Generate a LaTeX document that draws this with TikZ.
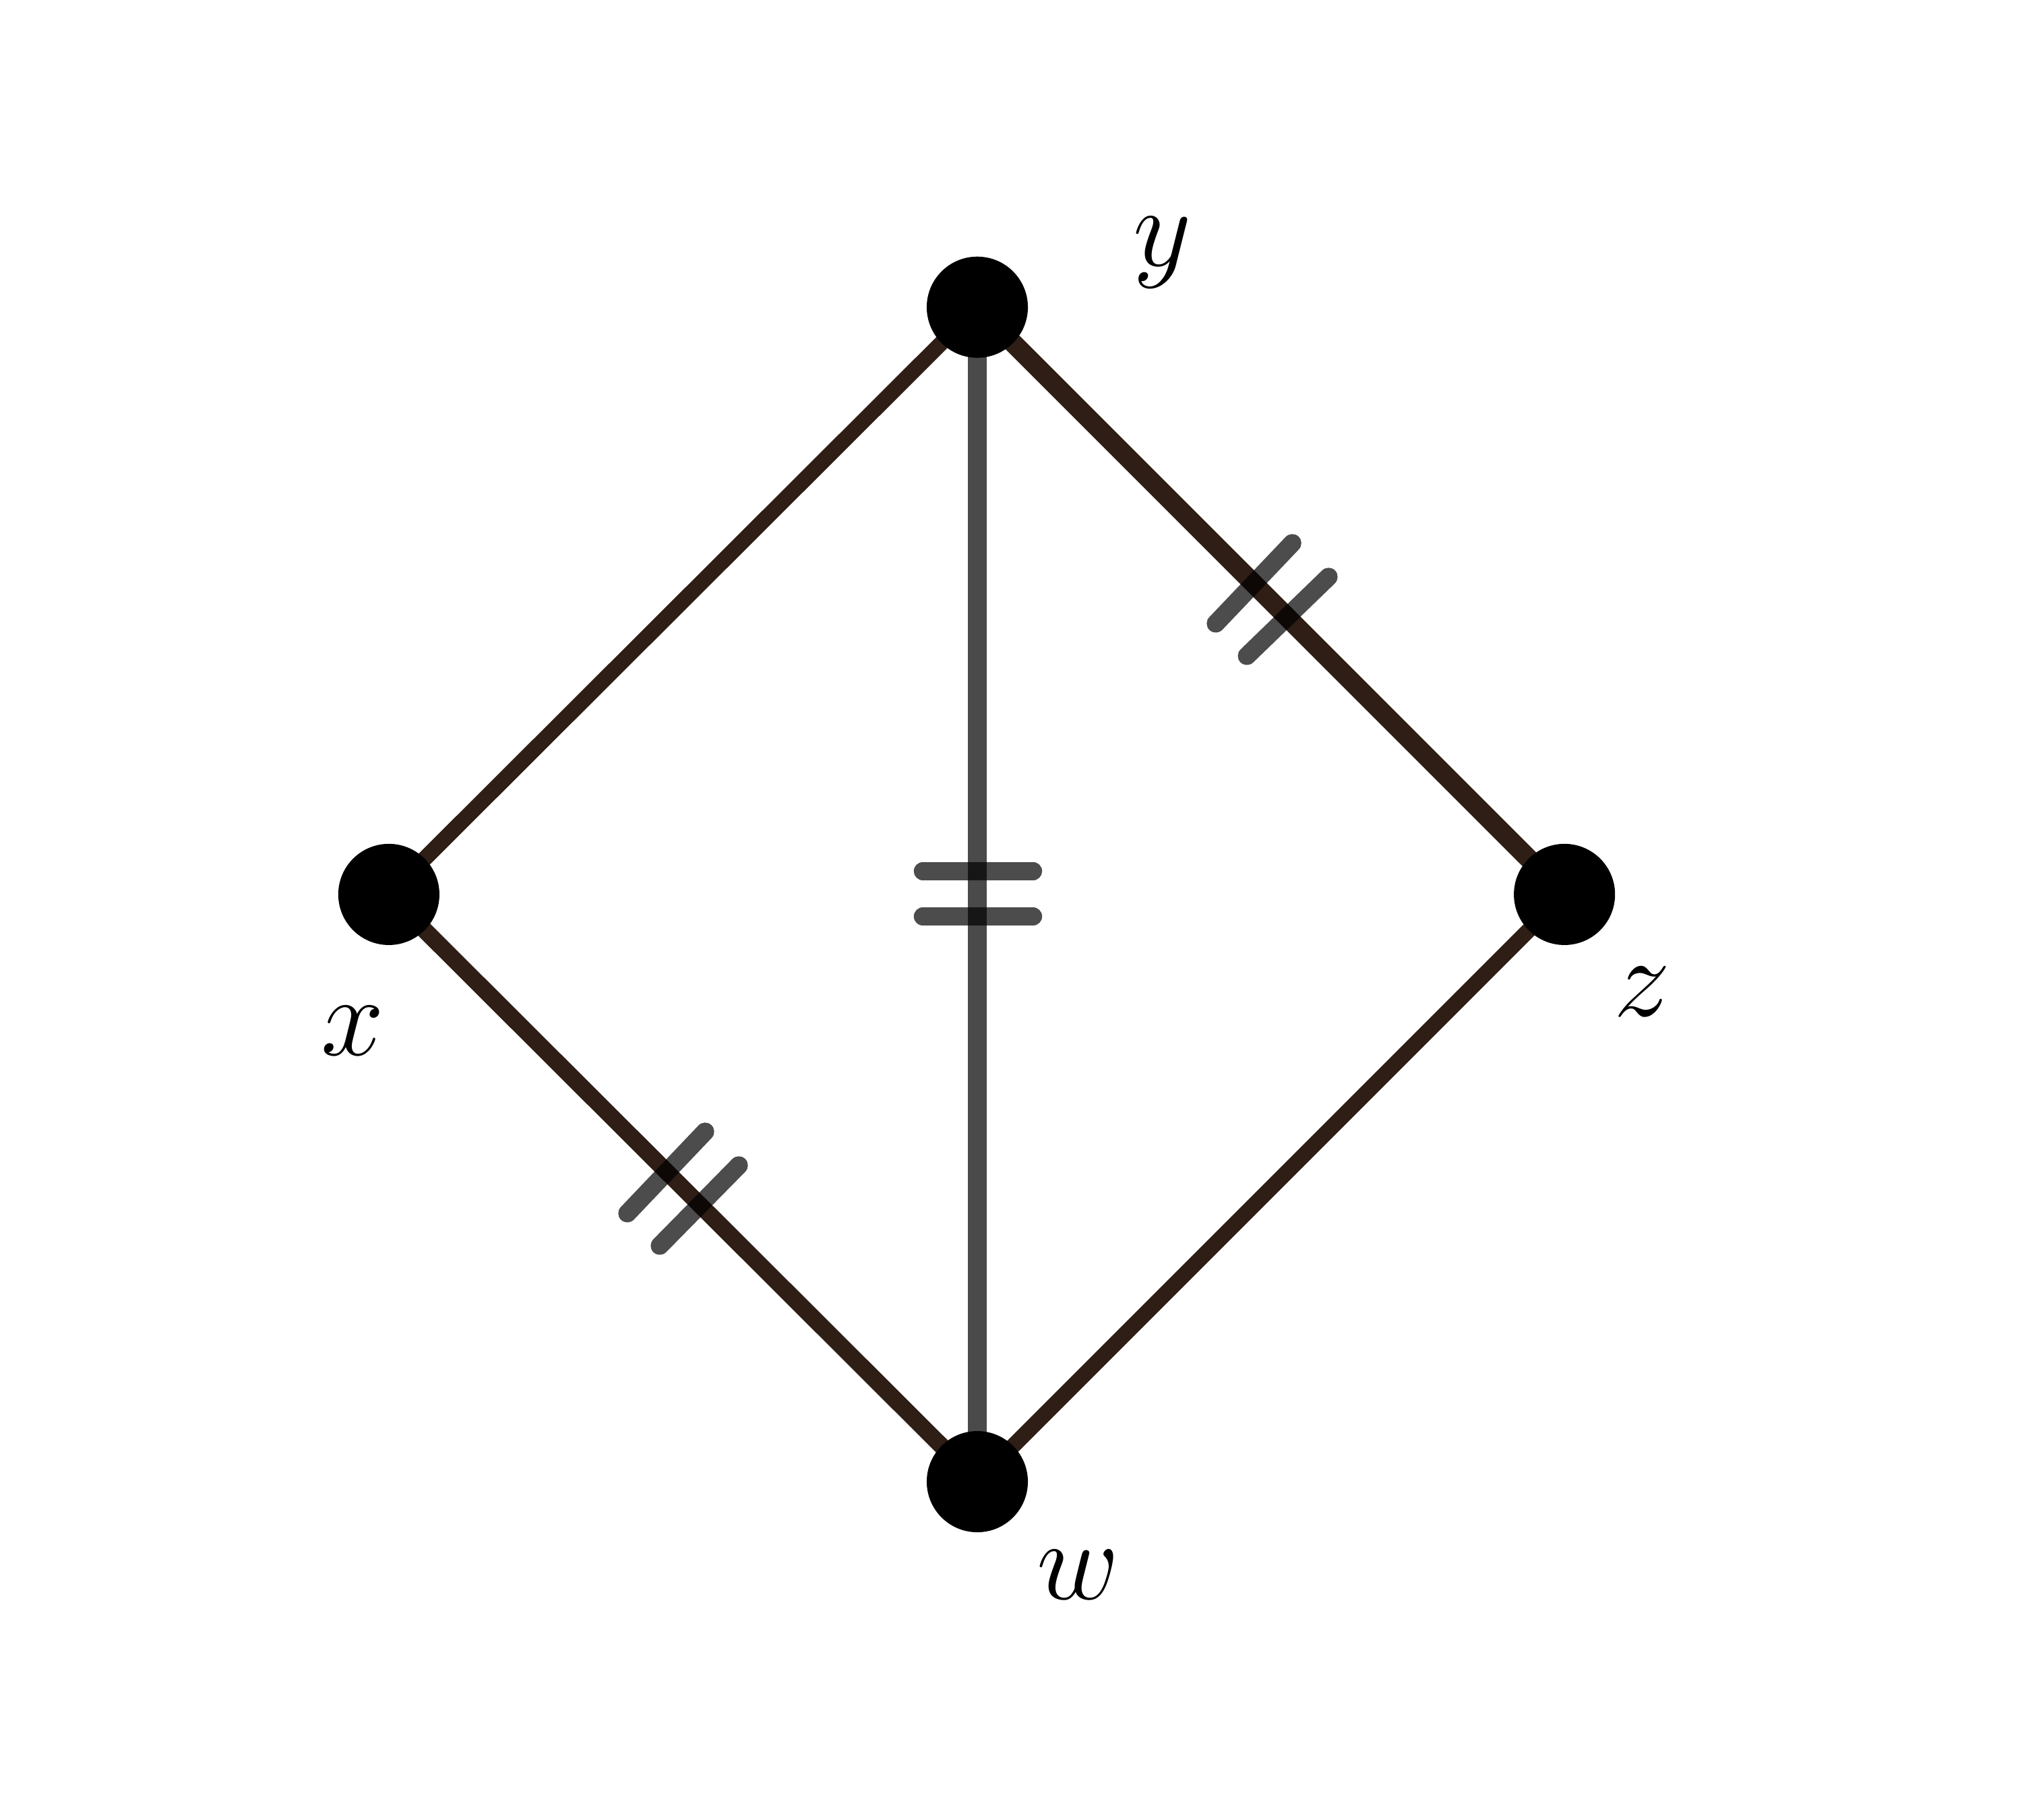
\documentclass[tikz,border=0pt]{standalone}
\begin{document}
\begin{tikzpicture}[x=0.01cm,y=-0.01cm,
  edge/.style={line width=#1, draw={rgb,255:red,46;green,30;blue,22}},
  tick/.style={line width=0.14cm, line cap=round, draw=black, draw opacity=0.7},
  dot/.style={circle, fill=black, minimum size=0.78cm, inner sep=0pt},
  lab/.style={font=\fontsize{40}{44}\selectfont}]
\useasboundingbox (0,0) rectangle (1560,1404);
\coordinate (y) at (754,237);
\coordinate (x) at (300,690);
\coordinate (z) at (1207,690);
\coordinate (w) at (754,1143);
\draw[edge=0.12cm] (x) -- (y);
\draw[edge=0.15cm] (y) -- (z);
\draw[edge=0.13cm] (x) -- (w);
\draw[edge=0.12cm] (z) -- (w);
\draw[line width=0.15cm, draw={rgb,255:red,74;green,74;blue,74}] (y) -- (w);
\coordinate (t1a) at (712,672); \coordinate (t1b) at (797,672);
\coordinate (t2a) at (712,707); \coordinate (t2b) at (797,707);
\coordinate (t3a) at (938,481); \coordinate (t3b) at (997,419);
\coordinate (t4a) at (962,506); \coordinate (t4b) at (1025,445);
\coordinate (t5a) at (484,936); \coordinate (t5b) at (544,873);
\coordinate (t6a) at (509,961); \coordinate (t6b) at (570,899);
\foreach \i in {1,...,6} \draw[tick] (t\i a) -- (t\i b);
\node[dot] (ny) at (y) {};
\node[dot] (nx) at (x) {};
\node[dot] (nz) at (z) {};
\node[dot] (nw) at (w) {};
\node[lab] (ly) at (897,195) {$y$};
\node[lab] (lx) at (272,795) {$x$};
\node[lab] (lz) at (1267,765) {$z$};
\node[lab] (lw) at (832,1215) {$w$};
\end{tikzpicture}
\end{document}
